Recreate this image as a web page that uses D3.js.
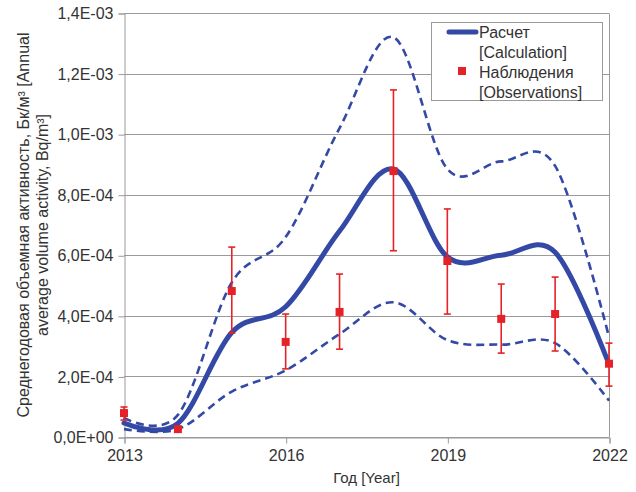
<!DOCTYPE html>
<html>
<head>
<meta charset="utf-8">
<script src="https://cdn.jsdelivr.net/npm/d3@7"></script>
<style>
  body { margin: 0; background: #fff; }
  text { font-family: "Liberation Sans", Arial, sans-serif; fill: #333; }
</style>
</head>
<body>
<svg id="chart" width="636" height="492"></svg>
<script>
// years on the x axis
var years = [2013, 2014, 2015, 2016, 2017, 2018, 2019, 2020, 2021, 2022];

// calculation (solid) and its bounds (dashed)
var calc  = [4.6e-5, 4.5e-5, 3.45e-4, 4.3e-4, 6.8e-4, 8.85e-4, 5.95e-4, 6.0e-4, 6.1e-4, 2.4e-4];
var upper = [6.3e-5, 7.3e-5, 5.1e-4, 6.6e-4, 1.02e-3, 1.32e-3, 8.85e-4, 9.1e-4, 8.95e-4, 3.3e-4];
var lower = [2.6e-5, 2.6e-5, 1.5e-4, 2.2e-4, 3.4e-4, 4.45e-4, 3.2e-4, 3.05e-4, 3.1e-4, 1.2e-4];

// observations with error bars
var obs    = [7.9e-5, 2.6e-5, 4.82e-4, 3.14e-4, 4.13e-4, 8.78e-4, 5.81e-4, 3.9e-4, 4.06e-4, 2.42e-4];
var obsHi  = [9.9e-5, 3.2e-5, 6.27e-4, 4.06e-4, 5.38e-4, 1.146e-3, 7.53e-4, 5.05e-4, 5.28e-4, 3.1e-4];
var obsLo  = [5.6e-5, 2.0e-5, 3.43e-4, 2.25e-4, 2.9e-4, 6.15e-4, 4.06e-4, 2.77e-4, 2.84e-4, 1.68e-4];

var yTicks = [0, 2e-4, 4e-4, 6e-4, 8e-4, 1e-3, 1.2e-3, 1.4e-3];
var yTickLabels = ["0,0E+00", "2,0E-04", "4,0E-04", "6,0E-04", "8,0E-04", "1,0E-03", "1,2E-03", "1,4E-03"];
var xTicks = [2013, 2016, 2019, 2022];

var svg = d3.select("#chart");

var plotLeft = 124, plotRight = 609, plotTop = 13, plotBottom = 437;
var blue = "#3449a6", red = "#e52227", grid = "#9a9a9a";

var x = d3.scaleLinear().domain([2013, 2022]).range([plotLeft, plotRight]);
var y = d3.scaleLinear().domain([0, 1.4e-3]).range([plotBottom, plotTop]);

// gridlines
svg.selectAll(".grid")
    .data(yTicks)
    .enter()
    .append("line")
    .attr("class", "grid")
    .attr("x1", plotLeft)
    .attr("x2", plotRight)
    .attr("y1", function (d) { return Math.round(y(d)) + 0.5 })
    .attr("y2", function (d) { return Math.round(y(d)) + 0.5 })
    .style("stroke", grid)
    .style("stroke-width", 1);

// right border
svg.append("line")
    .attr("x1", plotRight + 0.5).attr("x2", plotRight + 0.5)
    .attr("y1", plotTop + 0.5).attr("y2", plotBottom)
    .style("stroke", grid);

// y axis
var yAxis = d3.axisLeft(y)
    .tickValues(yTicks)
    .tickSize(6)
    .tickPadding(5)
    .tickFormat(function (d, i) { return yTickLabels[i] });

var gy = svg.append("g")
    .attr("transform", "translate(" + (plotLeft + 0.5) + ",0.5)")
    .call(yAxis);

// x axis
var xAxis = d3.axisBottom(x)
    .tickValues(xTicks)
    .tickSize(6)
    .tickPadding(6)
    .tickFormat(d3.format("d"));

var gx = svg.append("g")
    .attr("transform", "translate(0.5," + (plotBottom + 0.5) + ")")
    .call(xAxis);

[gx, gy].forEach(function (g) {
    g.select(".domain").style("stroke", grid);
    g.selectAll(".tick line").style("stroke", grid);
    g.selectAll(".tick text")
        .style("font-size", "16px")
        .style("fill", "#333")
        .style("font-family", "Liberation Sans, Arial, sans-serif");
});

// axis titles
svg.append("text")
    .attr("x", (plotLeft + plotRight) / 2)
    .attr("y", 483)
    .attr("text-anchor", "middle")
    .style("font-size", "15px")
    .text("Год [Year]");

var yt = svg.append("text")
    .attr("transform", "translate(0," + ((plotTop + plotBottom) / 2) + ") rotate(-90)")
    .attr("text-anchor", "middle")
    .style("font-size", "16px");
yt.append("tspan").attr("x", 0).attr("y", 29)
    .text("Среднегодовая объемная активность, Бк/м³ [Annual");
yt.append("tspan").attr("x", 0).attr("y", 48)
    .text("average volume activity, Bq/m³]");

// curves
var line = d3.line()
    .x(function (d, i) { return x(years[i]) })
    .y(function (d) { return y(d) })
    .curve(d3.curveCardinal.tension(0));

svg.append("path")
    .datum(upper)
    .attr("d", line)
    .style("fill", "none")
    .style("stroke", blue)
    .style("stroke-width", 2.6)
    .style("stroke-dasharray", "8,5");

svg.append("path")
    .datum(lower)
    .attr("d", line)
    .style("fill", "none")
    .style("stroke", blue)
    .style("stroke-width", 2.6)
    .style("stroke-dasharray", "8,5");

svg.append("path")
    .datum(calc)
    .attr("d", line)
    .style("fill", "none")
    .style("stroke", blue)
    .style("stroke-width", 5)
    .style("stroke-linecap", "round");

// error bars
var eb = svg.selectAll(".err")
    .data(obs)
    .enter()
    .append("g")
    .attr("class", "err");

eb.append("line")
    .attr("x1", function (d, i) { return x(years[i]) })
    .attr("x2", function (d, i) { return x(years[i]) })
    .attr("y1", function (d, i) { return y(obsHi[i]) })
    .attr("y2", function (d, i) { return y(obsLo[i]) })
    .style("stroke", red)
    .style("stroke-width", 1.6);

[obsHi, obsLo].forEach(function (arr) {
    eb.append("line")
        .attr("x1", function (d, i) { return x(years[i]) - 3.5 })
        .attr("x2", function (d, i) { return x(years[i]) + 3.5 })
        .attr("y1", function (d, i) { return y(arr[i]) })
        .attr("y2", function (d, i) { return y(arr[i]) })
        .style("stroke", red)
        .style("stroke-width", 1.6);
});

eb.append("rect")
    .attr("x", function (d, i) { return x(years[i]) - 4 })
    .attr("y", function (d) { return y(d) - 4 })
    .attr("width", 8)
    .attr("height", 8)
    .style("fill", red);

// legend
var lg = svg.append("g");
lg.append("rect")
    .attr("x", 431.5).attr("y", 22.5)
    .attr("width", 171).attr("height", 78)
    .style("fill", "#fff")
    .style("stroke", grid);

lg.append("line")
    .attr("x1", 449).attr("x2", 476)
    .attr("y1", 32).attr("y2", 32)
    .style("stroke", blue)
    .style("stroke-width", 5)
    .style("stroke-linecap", "round");

lg.append("rect")
    .attr("x", 458).attr("y", 67)
    .attr("width", 8).attr("height", 8)
    .style("fill", red);

var legendText = ["Расчет", "[Calculation]", "Наблюдения", "[Observations]"];
lg.selectAll(".lt")
    .data(legendText)
    .enter()
    .append("text")
    .attr("class", "lt")
    .attr("x", 479)
    .attr("y", function (d, i) { return 38 + i * 20 })
    .style("font-size", "16px")
    .text(function (d) { return d });
</script>
</body>
</html>
